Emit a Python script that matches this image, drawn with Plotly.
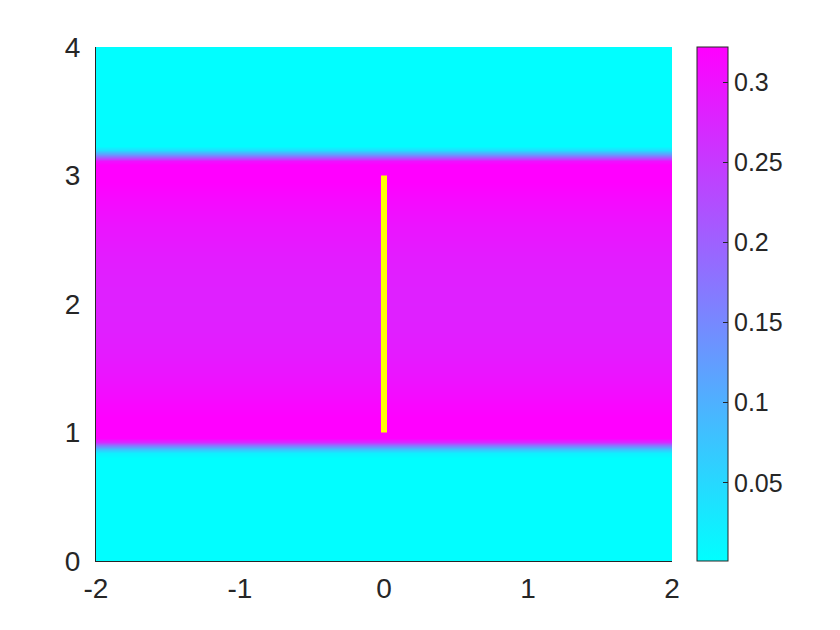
import plotly.graph_objects as go

# grid edges in x (field is uniform across x)
x_grid = [-2.0, 2.0]

# vertical profile of the field
y_grid = [0.0, 0.80, 0.84, 0.87, 0.90, 0.93, 0.96, 1.05, 1.2, 1.4, 1.6, 1.8, 2.0,
          2.2, 2.4, 2.6, 2.8, 2.95, 3.08, 3.11, 3.14, 3.17, 3.20, 3.23, 4.0]
z_profile = [0.002, 0.003, 0.02, 0.08, 0.18, 0.27, 0.32, 0.325, 0.315, 0.300,
             0.289, 0.283, 0.281, 0.283, 0.288, 0.297, 0.310, 0.322, 0.325,
             0.30, 0.22, 0.12, 0.04, 0.005, 0.002]

# source segment
seg_x = [0, 0]
seg_y = [1, 3]

x_ticks = [-2, -1, 0, 1, 2]
x_labels = ["-2", "-1", "0", "1", "2"]
y_ticks = [0, 1, 2, 3, 4]
cb_ticks = [0.05, 0.1, 0.15, 0.2, 0.25, 0.3]
cb_labels = ["0.05", "0.1", "0.15", "0.2", "0.25", "0.3"]

z = [[v, v] for v in z_profile]

fig = go.Figure()
fig.add_trace(go.Heatmap(
    x=x_grid, y=y_grid, z=z,
    zsmooth="best",
    zmin=0.0012, zmax=0.322,
    colorscale=[[0, "rgb(0,255,255)"], [1, "rgb(255,0,255)"]],
    colorbar=dict(
        x=1.0434, xanchor="left", xref="paper", xpad=0, ypad=0,
        y=0, yanchor="bottom", len=1, lenmode="fraction",
        thickness=31, outlinewidth=1, outlinecolor="#262626",
        ticks="inside", ticklen=5, tickcolor="#262626",
        tickvals=cb_ticks, ticktext=cb_labels,
        tickfont=dict(family="Liberation Sans, Arial", size=25, color="#262626"),
    ),
    hoverinfo="skip",
))
fig.add_trace(go.Scatter(
    x=seg_x, y=seg_y, mode="lines",
    line=dict(color="rgb(255,255,0)", width=6),
    showlegend=False,
))

axis_font = dict(family="Liberation Sans, Arial", size=28, color="#262626")
fig.update_layout(
    width=832, height=622,
    margin=dict(l=88, r=168, t=39, b=69),
    paper_bgcolor="white", plot_bgcolor="white",
    showlegend=False,
    xaxis=dict(range=[-2, 2], tickvals=x_ticks, ticktext=x_labels, showgrid=False,
               zeroline=False, showline=True, linecolor="#262626", linewidth=1,
               ticks="", tickfont=axis_font, ticklabelstandoff=2),
    yaxis=dict(range=[0, 4], tickvals=y_ticks, showgrid=False,
               zeroline=False, showline=True, linecolor="#262626", linewidth=1,
               ticks="", tickfont=axis_font, ticklabelstandoff=9),
)

fig.write_html("out.html")
